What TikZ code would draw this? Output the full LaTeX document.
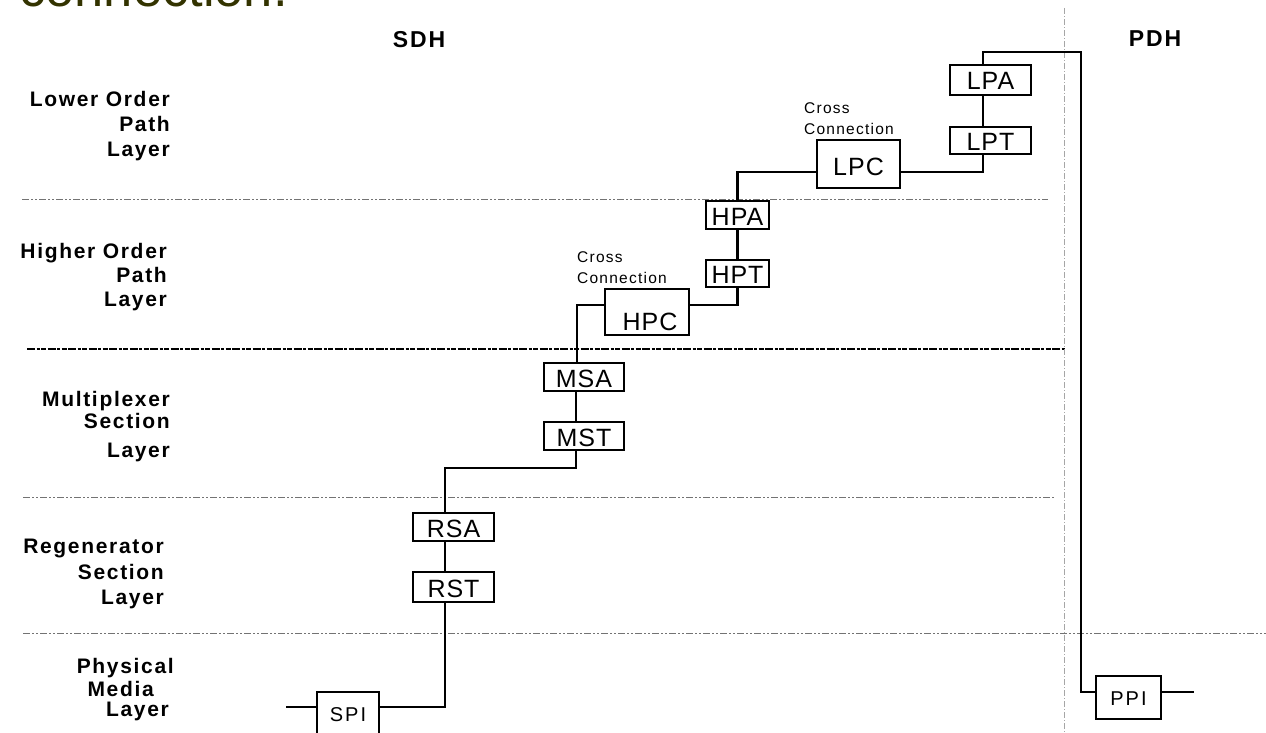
\documentclass[tikz,border=0pt]{standalone}
\usepackage{fontspec}
\setmainfont{Liberation Sans}
\newfontfamily\hdrfont[LetterSpace=8]{Liberation Sans}
\newfontfamily\boxfont[LetterSpace=4]{Liberation Sans}
\newfontfamily\smallfont[LetterSpace=8]{Liberation Sans}
\definecolor{titleolive}{HTML}{333300}
\definecolor{sepgray}{gray}{0.45}
\definecolor{vsepgray}{gray}{0.65}

\begin{document}
\begin{tikzpicture}[x=1pt,y=-1pt,
  conn/.style={line width=2.9pt, line join=miter},
  fblock/.style={draw, fill=white, line width=2.7pt, inner sep=0pt,
    font=\boxfont\fontsize{25}{25}\selectfont, text height=20pt, text depth=0pt},
  pblock/.style={fblock, font=\boxfont\fontsize{20}{20}\selectfont\addfontfeatures{LetterSpace=10},
    text height=16pt},
  hdr/.style={inner sep=0pt, font=\hdrfont\bfseries\fontsize{23}{23}\selectfont},
  layerlbl/.style={inner sep=0pt, align=right, anchor=north east,
    font=\hdrfont\bfseries\fontsize{21}{25}\selectfont},
  xclabel/.style={inner sep=0pt, align=left, anchor=north west,
    font=\smallfont\fontsize{15.5}{21}\selectfont},
  septhin/.style={draw=sepgray, line width=0.9pt,
    dash pattern=on 7pt off 2pt on 2pt off 2pt on 2pt off 2pt},
  septhick/.style={draw=black, line width=2.3pt,
    dash pattern=on 8pt off 1.5pt on 3pt off 1.5pt on 5pt off 1.5pt},
  sepvert/.style={draw=vsepgray, line width=0.8pt,
    dash pattern=on 6pt off 2pt on 1pt off 2pt}]

\useasboundingbox (0,0) rectangle (1266,733);
\clip (0,0) rectangle (1266,733);

% heading fragment from the slide above
\node[inner sep=0pt, anchor=base west, text=titleolive,
  font=\fontsize{52.5}{52.5}\selectfont] (heading) at (19,7) {connection.};

% layer separators
\draw[septhin]  (22,199) -- (1048,199);
\draw[septhick] (27,349) -- (1065,349);
\draw[septhin]  (23,497) -- (1054,497);
\draw[septhin]  (23,633) -- (1266,633);
\draw[sepvert]  (1064,8) -- (1064,733);

% column headings
\node[hdr, anchor=base] (sdh) at (419,47.5) {SDH};
\node[hdr, anchor=base] (pdh) at (1155,47) {PDH};

% layer names
\node[layerlbl] (lopl) at (170,91) {Lower Order\\Path\\Layer};
\node[layerlbl, font=\hdrfont\bfseries\fontsize{21}{24}\selectfont]
  (hopl) at (167,243) {Higher Order\\Path\\Layer};
\node[layerlbl, font=\hdrfont\bfseries\fontsize{21}{22}\selectfont]
  (msl) at (170,391) {Multiplexer\\Section\\[7pt]Layer};
\node[layerlbl, font=\hdrfont\bfseries\fontsize{21}{25.5}\selectfont]
  (rsl) at (164,539) {Regenerator\\Section\\Layer};
\node[layerlbl, font=\hdrfont\bfseries\fontsize{21}{23}\selectfont]
  (pml) at (174,658) {Physical\\\mbox{Media\hspace{20pt}}\\[-3pt]\mbox{Layer\hspace{5pt}}};

% functional blocks
\node[fblock, minimum width=81, minimum height=30] (lpa) at (990.5,80)  {LPA};
\node[fblock, minimum width=81, minimum height=27] (lpt) at (990.5,140.5) {LPT};
\node[fblock, minimum width=83, minimum height=48, text height=23pt] (lpc) at (858.5,164) {LPC};
\node[fblock, minimum width=63, minimum height=28] (hpa) at (737.5,215) {HPA};
\node[fblock, minimum width=63, minimum height=27] (hpt) at (737.5,273.5) {HPT};
\node[fblock, minimum width=84, minimum height=46, text height=37pt] (hpc) at (647,312) {\hspace*{6pt}HPC};
\node[fblock, minimum width=80, minimum height=28] (msa) at (584,377) {MSA};
\node[fblock, minimum width=80, minimum height=28] (mst) at (584,436) {MST};
\node[fblock, minimum width=81, minimum height=28] (rsa) at (453.5,527) {RSA};
\node[fblock, minimum width=81, minimum height=30] (rst) at (453.5,587) {RST};
\node[pblock, minimum width=62, minimum height=43] (spi) at (348,713.5) {SPI};
\node[pblock, minimum width=65, minimum height=43] (ppi) at (1128.5,697.5) {PPI};

% cross connection captions
\node[xclabel] (lpcx) at (804,102.5) {Cross\\Connection};
\node[xclabel] (hpcx) at (577,251.5) {Cross\\Connection};

% route points
\coordinate (pdhtop) at (1081,52);
\coordinate (ppiout) at (1194,692);
\coordinate (mssplit) at (576,468);
\coordinate (spiin) at (286,707);

% connections
\draw[conn] ([xshift=-7.5pt]lpa.north) |- (pdhtop) |- ([yshift=5.5pt]ppi.west);
\draw[conn] ([yshift=5.5pt]ppi.east) -- (ppiout);
\draw[conn] ([xshift=-7.5pt]lpa.south) -- ([xshift=-7.5pt]lpt.north);
\draw[conn] ([xshift=-7.5pt]lpt.south) |- ([yshift=-8pt]lpc.east);
\draw[conn] ([yshift=-8pt]lpc.west) -| (hpa.north);
\draw[conn] (hpa.south) -- (hpt.north);
\draw[conn] (hpt.south) |- ([yshift=7pt]hpc.east);
\draw[conn] ([yshift=7pt]hpc.west) -| ([xshift=-7pt]msa.north);
\draw[conn] ([xshift=-8pt]msa.south) -- ([xshift=-8pt]mst.north);
\draw[conn] ([xshift=-8pt]mst.south) -- (mssplit) -| ([xshift=-8.5pt]rsa.north);
\draw[conn] ([xshift=-8.5pt]rsa.south) -- ([xshift=-8.5pt]rst.north);
\draw[conn] ([xshift=-8.5pt]rst.south) |- ([yshift=6.5pt]spi.east);
\draw[conn] (spiin) -- ([yshift=6.5pt]spi.west);

\end{tikzpicture}
\end{document}
